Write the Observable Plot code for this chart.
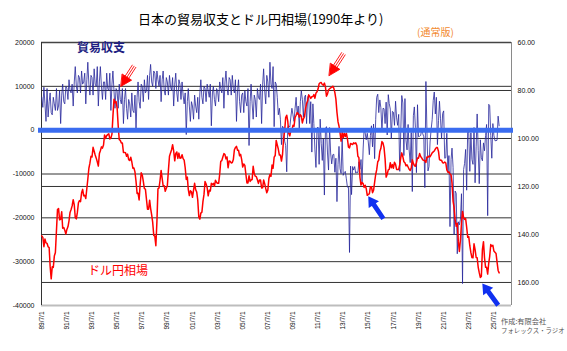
<!DOCTYPE html>
<html><head><meta charset="utf-8">
<script src="https://cdn.jsdelivr.net/npm/d3@7"></script>
<script src="https://cdn.jsdelivr.net/npm/@observablehq/plot@0.6"></script>
<style>
body{margin:0;background:#fff;}
#wrap{position:relative;width:567px;height:351px;overflow:hidden;font-family:"Noto Sans CJK JP","Noto Sans",sans-serif;}
.ov{position:absolute;white-space:nowrap;line-height:1;}
</style></head><body>
<div id="wrap"></div>
<script>
// ---- Data (monthly, first month = 1989/7) ----
const firstMonth = "1989-07";
// 貿易収支 (億円), Jan..Dec per line
const tradeBalance = [
  7500, 5200, 9800, 6000, 2000, 9500,
  3000, 6500, 8500, 4000, 3500, 7500, 6000, 4500, 9500, 4500, 5500, 9000,
  1500, 8000, 10500, 6500, 6000, 10000, 9500, 7000, 11500, 9000, 8500, 10500,
  5500, 11000, 14500, 10000, 8500, 12500, 12000, 8500, 13500, 10500, 11000, 13000,
  6000, 11500, 15500, 10500, 8000, 12500, 12000, 8000, 14000, 10500, 10000, 14500,
  5500, 11000, 14500, 10000, 7000, 11000, 11000, 7000, 13000, 9500, 9000, 13000,
  4500, 10500, 13500, 9000, 5000, 9500, 9000, 5000, 10500, 7000, 6000, 9500,
  1500, 7000, 9500, 5000, 2500, 7000, 6000, 3000, 8500, 4500, 4000, 8000,
  200, 7500, 11000, 6500, 5000, 10500, 10000, 6500, 11500, 8500, 9000, 12500,
  7000, 12500, 15000, 11000, 10000, 13500, 13000, 9500, 13500, 11500, 10000, 12500,
  6500, 11500, 13500, 9000, 8000, 12000, 11000, 8000, 12500, 10000, 9000, 12000,
  5500, 10500, 13000, 8500, 6500, 11500, 10500, 7000, 11000, 8000, 6000, 8500,
  -1000, 6500, 9500, 5500, 2000, 6500, 5500, 2500, 8000, 5500, 4000, 7500,
  2500, 8500, 11500, 7500, 6000, 10000, 9500, 6500, 10500, 9000, 7500, 10500,
  1000, 8500, 10000, 7000, 5500, 9500, 9000, 6500, 11000, 9500, 8500, 12000,
  5000, 11000, 13500, 9500, 8000, 12000, 11500, 8000, 12500, 9500, 8500, 11500,
  2000, 9000, 11500, 6500, 4000, 8000, 8500, 4000, 9000, 6500, 5500, 9500,
  -3500, 6500, 10500, 6000, 2500, 8000, 7000, 3000, 9500, 7500, 7000, 10500,
  1500, 10500, 14000, 9000, 6000, 12500, 11000, 7500, 15500, 10500, 9500, 14500,
  800, 11000, 10500, 7500, 3500, 5000, 2500, -3300, 900, 500, -2500, -3500,
  -9500, 800, 1000, 700, 3000, 5000, 3500, 2000, 5000, 7500, 3500, 5500,
  500, 6500, 9000, 7000, 3000, 7500, 8000, 1500, 7500, 8000, 1500, 6500,
  -5000, 6000, 1500, -4500, -8500, 500, 700, -7800, 2500, -3000, -6900, -2000,
  -14800, 300, 800, -5200, -9100, 600, -5200, -7700, -5600, -5500, -9600, -6400,
  -16300, -7800, -3700, -8800, -9900, -1800, -10300, -9700, -9400, -11100, -13000, -13000,
  -27900, -8200, -14700, -8300, -9100, -8300, -9800, -9500, -9700, -7200, -8900, -6700,
  -11800, -4300, 200, -600, -2200, -700, -2700, -5600, -1200, 1000, -3800, 1400,
  -6500, 2400, 7500, 8200, 4000, 6900, 5100, -200, 5000, 4900, 1500, 6400,
  -1100, 8100, 6100, 4800, -2000, 4300, 4100, 1100, 6600, 2800, 1100, 3600,
  -9400, 300, 7900, 6200, -5800, 7200, -2300, -4500, 1300, -4500, -7400, -500,
  -14000, 3300, 5300, 600, -9700, 5800, -1500, -1400, -1200, 100, -800, -1500,
  -13100, 11100, 100, -9300, -8300, -2700, 100, 2400, 6800, 8700, 3700, 7500,
  -3300, 2200, 6600, 2600, -1900, 3800, 4400, -6400, -6300, -700, -9600, -5800,
  -22000, -6700, -4100, -8500, -23900, -13900, -14400, -28200, -20900, -21600, -20300, -14500,
  -35000, -9000, -7600, -4400, -13700, 400, -700, -9400, -600, -6700, -7800, 600,
  -12000, -3800, 3700, -4600, -12200, -2200, -6300, -7000, -2900, -4700, -1200, 1300,
  -19500, 5900, 5600, -1200, -6400, 1500, -1200, -2400, -2400, -2300, 3200, 1000
];
// ドル円相場 (円), Jan..Dec per line
const usdJpy = [
  140.6, 141.2, 145.1, 141.9, 143.5, 143.7,
  145.1, 145.5, 153.2, 158.5, 153.5, 153.7, 149.0, 147.5, 138.4, 129.6, 129.2, 133.9,
  133.7, 130.5, 137.4, 137.1, 138.2, 139.8, 137.9, 136.8, 134.3, 130.8, 129.6, 128.1,
  125.5, 127.7, 132.9, 133.5, 130.8, 126.8, 125.9, 126.3, 122.6, 121.2, 123.9, 123.7,
  125.0, 120.8, 117.0, 112.4, 110.3, 107.4, 107.7, 103.7, 105.3, 106.9, 108.2, 109.7,
  111.5, 106.3, 105.1, 103.5, 104.0, 102.7, 98.5, 100.0, 98.8, 98.4, 98.0, 100.2,
  99.8, 98.2, 90.8, 83.7, 85.1, 84.6, 87.2, 94.6, 100.5, 100.8, 101.9, 101.9,
  105.8, 105.8, 105.9, 107.4, 106.5, 108.8, 109.2, 107.8, 109.8, 112.4, 112.3, 113.9,
  117.9, 122.9, 122.8, 125.6, 119.1, 114.3, 115.2, 117.9, 120.9, 121.1, 125.4, 129.5,
  129.5, 125.7, 129.1, 131.8, 135.0, 140.4, 140.7, 144.7, 134.5, 121.0, 120.6, 117.4,
  113.3, 116.7, 119.7, 119.7, 122.0, 120.7, 119.7, 113.3, 107.4, 106.0, 104.7, 102.6,
  105.2, 109.3, 106.3, 105.6, 108.3, 106.1, 108.2, 108.1, 106.8, 108.4, 109.0, 112.2,
  117.1, 116.1, 121.2, 123.8, 121.8, 122.2, 124.5, 121.5, 118.7, 121.3, 122.3, 125.6,
  132.7, 133.6, 131.1, 130.7, 126.3, 123.3, 117.9, 119.0, 120.5, 123.9, 121.6, 121.9,
  118.7, 119.3, 118.7, 119.9, 117.4, 118.3, 118.7, 118.7, 114.8, 109.5, 109.2, 107.7,
  106.3, 106.7, 108.5, 107.7, 112.2, 109.4, 109.5, 110.2, 110.0, 108.8, 104.7, 103.8,
  103.3, 104.9, 104.9, 107.2, 106.6, 108.8, 111.9, 110.6, 111.2, 114.9, 118.5, 118.5,
  115.5, 117.9, 117.3, 117.1, 111.6, 114.6, 115.7, 115.9, 117.2, 118.7, 117.3, 117.3,
  120.6, 120.5, 117.3, 118.8, 120.8, 122.6, 121.6, 116.7, 115.0, 115.8, 111.1, 112.4,
  107.8, 107.1, 100.8, 102.7, 104.4, 106.9, 106.9, 109.4, 106.6, 100.1, 96.9, 91.3,
  90.3, 92.9, 97.9, 98.9, 96.6, 96.6, 94.5, 94.9, 91.2, 90.3, 89.2, 89.6,
  91.1, 90.1, 90.7, 93.5, 91.8, 90.9, 87.7, 85.4, 84.4, 81.8, 82.5, 83.3,
  82.6, 82.5, 81.7, 83.2, 81.1, 80.5, 79.4, 77.2, 76.8, 76.7, 77.5, 77.8,
  76.9, 78.5, 82.4, 81.4, 79.7, 79.3, 78.9, 78.7, 78.2, 79.0, 80.9, 83.6,
  89.1, 93.1, 94.8, 97.7, 101.1, 97.4, 99.7, 97.8, 99.2, 97.8, 100.1, 103.6,
  103.9, 102.1, 102.3, 102.5, 101.8, 102.1, 101.8, 102.9, 107.4, 108.0, 116.3, 119.4,
  118.3, 118.8, 120.4, 119.5, 120.8, 123.7, 123.3, 123.1, 120.1, 120.1, 122.6, 121.6,
  118.3, 115.0, 113.1, 109.7, 109.0, 105.4, 104.1, 101.3, 101.9, 103.8, 108.6, 116.1,
  114.9, 113.1, 112.9, 110.1, 112.2, 110.9, 112.4, 109.9, 110.8, 112.9, 112.9, 112.9,
  110.9, 107.9, 106.0, 107.6, 109.7, 110.1, 111.4, 111.0, 111.9, 112.8, 113.3, 112.3,
  108.9, 110.4, 111.2, 111.6, 110.0, 108.1, 108.2, 106.3, 107.5, 108.1, 108.9, 109.1,
  109.3, 110.0, 107.7, 107.8, 107.3, 107.6, 106.8, 106.0, 105.6, 105.2, 104.4, 103.8,
  103.8, 105.4, 108.7, 109.1, 109.1, 110.1, 110.2, 109.8, 110.2, 113.1, 114.1, 113.9,
  114.8, 115.2, 118.5, 126.2, 128.8, 134.0, 136.6, 135.3, 143.1, 147.1, 142.3, 135.4,
  130.4, 133.0, 133.7, 133.4, 137.0, 141.2, 140.9, 144.8, 147.6, 149.6, 149.7, 143.9,
  146.3, 149.6, 149.7, 153.7, 155.9, 157.9, 157.5, 146.3, 143.0, 149.7, 153.7, 153.7,
  156.5, 151.9, 149.1, 144.2, 144.9, 144.5, 146.9, 147.4, 147.9, 151.5, 155.0, 156.0
];
const xTickLabels = ["89/7/1","91/7/1","93/7/1","95/7/1","97/7/1","99/7/1","01/7/1","03/7/1","05/7/1","07/7/1","09/7/1","11/7/1","13/7/1","15/7/1","17/7/1","19/7/1","21/7/1","23/7/1","25/7/1"];
const leftTicks = [20000, 10000, 0, -10000, -20000, -30000, -40000];
const rightTicks = [60, 80, 100, 120, 140, 160];
const leftDomain = [-40000, 20000];
const rightDomain = [60, 169.6]; // inverted (60 at top)
const xDomain = ["1989-06-23", "2026-11-25"];
const redArrowMonths = ["1995-04", "2011-10"];
const blueArrowMonths = ["2015-06", "2024-06"];

// ---- build ----
const parseM = s => new Date(s.length === 7 ? s + "-01T00:00:00Z" : s + "T00:00:00Z");
const m0 = parseM(firstMonth);
const toLeft = yen => leftDomain[0] + (rightDomain[1] - yen) / (rightDomain[1] - rightDomain[0]) * (leftDomain[1] - leftDomain[0]);
const fromLeft = v => rightDomain[1] - (v - leftDomain[0]) / (leftDomain[1] - leftDomain[0]) * (rightDomain[1] - rightDomain[0]);
const table = tradeBalance.map((v, i) => ({date: d3.utcMonth.offset(m0, i), trade: v, yen: usdJpy[i], yl: toLeft(usdJpy[i])}));
const byMonth = new Map(table.map(d => [d3.utcFormat("%Y-%m")(d.date), d]));
const tickDates = xTickLabels.map(s => { const [yy, mm, dd] = s.split("/").map(Number); return new Date(Date.UTC(yy < 50 ? 2000 + yy : 1900 + yy, mm - 1, dd)); });
const tickLabelMap = new Map(tickDates.map((d, i) => [+d, xTickLabels[i]]));
const xd = xDomain.map(parseM);

const blockArrow = {draw(c, l) { const w = 2.4, h = 6.2, hl = 10; c.moveTo(-w, 0); c.lineTo(-w, -l + hl); c.lineTo(-h, -l + hl); c.lineTo(0, -l); c.lineTo(h, -l + hl); c.lineTo(w, -l + hl); c.lineTo(w, 0); c.closePath(); }};
const stripedArrow = {draw(c, l) { const h = 5.5, hl = 11; c.moveTo(0, -l); c.lineTo(-h, -l + hl); c.lineTo(h, -l + hl); c.closePath(); for (const o of [-2.1, 0, 2.1]) { c.moveTo(o, 0); c.lineTo(o, -l + hl - 0.5); } }};
const pick = m => [byMonth.get(m)];

const plot = Plot.plot({
  width: 567, height: 351,
  marginTop: 42, marginBottom: 46, marginLeft: 41, marginRight: 56,
  style: {fontFamily: "'Liberation Sans', Arial, sans-serif", fontSize: "7px", color: "#111", background: "#fff"},
  x: {type: "utc", domain: xd, axis: null},
  y: {domain: leftDomain, axis: null},
  marks: [
    Plot.ruleY(leftTicks.slice(1, -1), {stroke: "#333", strokeWidth: 1}),
    Plot.ruleY(rightTicks.slice(1).map(toLeft), {stroke: "#333", strokeWidth: 1}),
    Plot.ruleY([leftDomain[1]], {stroke: "#444", strokeWidth: 1.5}),
    Plot.ruleY([leftDomain[0]], {stroke: "#bdbdbd", strokeWidth: 2}),
    Plot.ruleX([xd[0]], {stroke: "#333", strokeWidth: 1}),
    Plot.ruleX([xd[1]], {stroke: "#8a8a8a", strokeWidth: 1}),
    Plot.line(table, {x: "date", y: "trade", stroke: "#26269a", strokeWidth: 0.8}),
    Plot.line(table, {x: "date", y: "yl", stroke: "#ff0000", strokeWidth: 1.5}),
    Plot.ruleY([0], {stroke: "#3a6cf0", strokeWidth: 5, insetLeft: -3, insetRight: -2}),
    Plot.vector(pick(redArrowMonths[0]), {x: "date", y: "yl", anchor: "end", length: 24, rotate: -147, shape: stripedArrow, fill: "#ff0000", stroke: "#ff0000", strokeWidth: 0.8, dx: 7, dy: -13}),
    Plot.vector(pick(redArrowMonths[1]), {x: "date", y: "yl", anchor: "end", length: 26, rotate: -147, shape: stripedArrow, fill: "#ff0000", stroke: "#ff0000", strokeWidth: 0.8, dx: 8, dy: -7}),
    Plot.vector(pick(blueArrowMonths[0]), {x: "date", y: "yl", anchor: "end", length: 27, rotate: -34, shape: blockArrow, fill: "#1030f0", stroke: "none", dx: 1, dy: 1}),
    Plot.vector(pick(blueArrowMonths[1]), {x: "date", y: "yl", anchor: "end", length: 27, rotate: -36, shape: blockArrow, fill: "#1030f0", stroke: "none", dx: 2, dy: 6}),
    Plot.axisY(leftTicks, {anchor: "left", tickSize: 0, tickPadding: 7, tickFormat: d => String(d), label: null, fontSize: 7}),
    Plot.axisY(rightTicks.map(toLeft), {anchor: "right", tickSize: 0, tickPadding: 6, tickFormat: v => fromLeft(v).toFixed(2), label: null, fontSize: 7}),
    Plot.axisX(tickDates, {anchor: "bottom", tickSize: 0, tickPadding: 6, tickRotate: -90, tickFormat: d => tickLabelMap.get(+d), label: null, fontSize: 6.5})
  ]
});
const wrap = document.getElementById("wrap");
wrap.appendChild(plot);
const overlays = [
  {t: "日本の貿易収支とドル円相場(1990年より)", x: 138, y: 12, s: 13, c: "#000", w: "normal"},
  {t: "(通常版)", x: 417, y: 27, s: 10, c: "#f28a30", w: "normal"},
  {t: "貿易収支", x: 77, y: 41, s: 12, c: "#1e1e82", w: "bold"},
  {t: "ドル円相場", x: 88, y: 264, s: 12, c: "#ff0000", w: "normal"},
  {t: "作成:有限会社", x: 501, y: 317.5, s: 7.2, c: "#555", w: "normal"},
  {t: "フォレックス・ラジオ", x: 501, y: 328, s: 6.4, c: "#555", w: "normal"}
];
for (const o of overlays) {
  const d = document.createElement("div");
  d.className = "ov";
  d.textContent = o.t;
  Object.assign(d.style, {left: o.x + "px", top: o.y + "px", fontSize: o.s + "px", color: o.c, fontWeight: o.w});
  wrap.appendChild(d);
}
</script>
</body></html>
